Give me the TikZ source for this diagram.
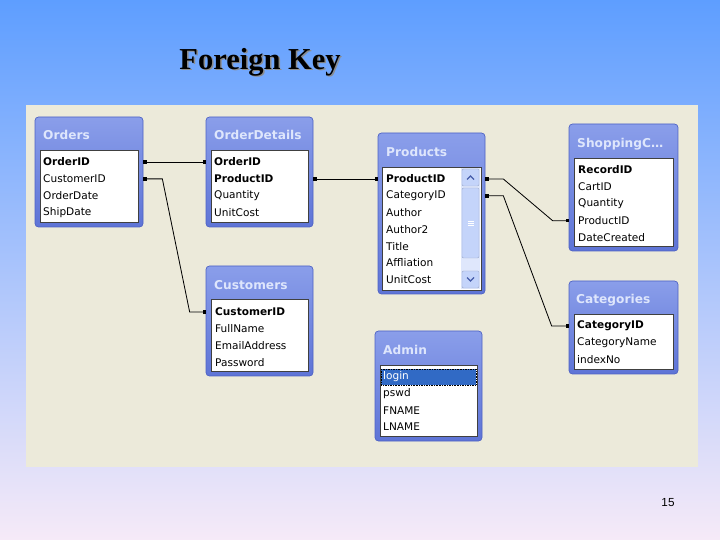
\documentclass[tikz,border=0pt]{standalone}
\usepackage{fontspec}
\setmainfont{Liberation Serif}
\setsansfont{DejaVu Sans}
\newfontfamily\pagefont{Liberation Sans}
\usetikzlibrary{positioning,fit,calc,arrows.meta}

\definecolor{bgtop}{RGB}{94,158,255}
\definecolor{bgbot}{RGB}{246,234,248}
\definecolor{xpbeige}{RGB}{236,234,218}
\definecolor{xptop}{RGB}{138,158,234}
\definecolor{xpbot}{RGB}{94,116,214}
\definecolor{xpedge}{RGB}{78,98,196}
\definecolor{xptitle}{RGB}{222,230,252}
\definecolor{xpsel}{RGB}{49,106,197}
\definecolor{xpscroll}{RGB}{196,212,250}
\definecolor{xparrow}{RGB}{70,92,170}

\begin{document}
\begin{tikzpicture}[x=0.03cm,y=-0.03cm,
    tabframe/.style={draw=xpedge,line width=0.6pt,rounded corners=3pt,inner sep=0pt,
      top color=xptop,bottom color=xpbot},
    tabtitle/.style={anchor=west,inner sep=0pt,text=xptitle,
      font=\sffamily\bfseries\fontsize{10.4}{12}\selectfont},
    tablist/.style={draw=black!75,line width=0.4pt,fill=white,inner sep=0pt},
    row/.style={anchor=west,inner sep=0pt,font=\sffamily\fontsize{9}{10}\selectfont},
    keyrow/.style={row,font=\sffamily\bfseries\fontsize{9}{10}\selectfont},
    fk/.style={line width=0.7pt,{Square[length=2.6pt,width=2.6pt]}-{Square[length=2.6pt,width=2.6pt]}},
    scrollbtn/.style={draw=xpscroll!80!black,fill=xpscroll,rounded corners=1pt,inner sep=0pt}]
    \useasboundingbox (0,0) rectangle (720,540);
    % Fond
    \shade[top color=bgtop,bottom color=bgbot] (0,0) rectangle (720,540);
    \fill[xpbeige] (26,105) rectangle (698,467);
    % Titre
    \node[font=\bfseries\fontsize{26}{30}\selectfont,text=black!45] (titleshadow) at (261.5,63.5) {Foreign Key};
    \node[font=\bfseries\fontsize{26}{30}\selectfont] (title) at (260,62) {Foreign Key};
    \node[font=\pagefont\fontsize{10}{12}\selectfont] (pagenum) at (668,503) {15};

    % Orders
    \node[tabframe,fit={(35,117) (143,227)}] (orders) {};
    \node[tabtitle] (ordersT) at (43,135) {Orders};
    \node[tablist,fit={(40,150) (138,222)}] (ordersL) {};
    \node[keyrow] (o1) at (43,162) {OrderID};
    \foreach \t [count=\i from 2] in {CustomerID,OrderDate,ShipDate}
        \node[row] (o\i) at (43,{162+16.9*(\i-1)}) {\t};

    % OrderDetails
    \node[tabframe,fit={(206,117) (313,227)}] (odet) {};
    \node[tabtitle] (odetT) at (214,135) {OrderDetails};
    \node[tablist,fit={(211,150) (308,222)}] (odetL) {};
    \node[keyrow] (d1) at (214,162) {OrderID};
    \node[keyrow] (d2) at (214,179) {ProductID};
    \foreach \t [count=\i from 3] in {Quantity,UnitCost}
        \node[row] (d\i) at (214,{162+16.9*(\i-1)}) {\t};

    % Products
    \node[tabframe,fit={(378,133) (485,294)}] (prod) {};
    \node[tabtitle] (prodT) at (386,152) {Products};
    \node[tablist,fit={(382,167) (481,290)}] (prodL) {};
    \node[keyrow] (p1) at (386,179) {ProductID};
    \foreach \t [count=\i from 2] in {CategoryID,Author,Author2,Title,Affliation,UnitCost}
        \node[row] (p\i) at (386,{179+16.8*(\i-1)}) {\t};
    % barre de defilement
    \fill[xpscroll!55] (461,168) rectangle (480,289);
    \node[scrollbtn,fit={(462,169) (479,186)}] (upbtn) {};
    \node[scrollbtn,fit={(462,188) (479,258)}] (thumb) {};
    \node[scrollbtn,fit={(462,271) (479,288)}] (downbtn) {};
    \draw[xparrow,line width=1pt] ($(upbtn.center)+(-3.5,2)$) -- ++(3.5,-3.5) -- ++(3.5,3.5);
    \draw[xparrow,line width=1pt] ($(downbtn.center)+(-3.5,-2)$) -- ++(3.5,3.5) -- ++(3.5,-3.5);
    \foreach \dy in {-2,0,2}
        \draw[white,line width=0.5pt] ($(thumb.center)+(-3,\dy)$) -- ++(6,0);

    % ShoppingC
    \node[tabframe,fit={(569,124) (678,251)}] (shop) {};
    \node[tabtitle] (shopT) at (577,144) {ShoppingC…};
    \node[tablist,fit={(574,158) (673,246)}] (shopL) {};
    \node[keyrow] (s1) at (578,170) {RecordID};
    \foreach \t [count=\i from 2] in {CartID,Quantity,ProductID,DateCreated}
        \node[row] (s\i) at (578,{170+16.9*(\i-1)}) {\t};

    % Customers
    \node[tabframe,fit={(206,266) (313,376)}] (cust) {};
    \node[tabtitle] (custT) at (214,285) {Customers};
    \node[tablist,fit={(211,299) (308,371)}] (custL) {};
    \node[keyrow] (c1) at (215,312) {CustomerID};
    \foreach \t [count=\i from 2] in {FullName,EmailAddress,Password}
        \node[row] (c\i) at (215,{312+16.7*(\i-1)}) {\t};

    % Admin
    \node[tabframe,fit={(375,331) (482,441)}] (admin) {};
    \node[tabtitle] (adminT) at (383,350) {Admin};
    \node[tablist,fit={(380,365) (477,436)}] (adminL) {};
    \fill[xpsel] (381,369) rectangle (476,385);
    \draw[black,densely dotted,line width=0.4pt] (381,369) rectangle (476,385);
    \node[row,text=white] (a1) at (383,377) {login};
    \foreach \t [count=\i from 2] in {pswd,FNAME,LNAME}
        \node[row] (a\i) at (383,{377+16.7*(\i-1)}) {\t};

    % Categories
    \node[tabframe,fit={(569,281) (678,374)}] (cat) {};
    \node[tabtitle] (catT) at (576,300) {Categories};
    \node[tablist,fit={(574,314) (673,369)}] (catL) {};
    \node[keyrow] (g1) at (577,326) {CategoryID};
    \foreach \t [count=\i from 2] in {CategoryName,indexNo}
        \node[row] (g\i) at (577,{326+16.9*(\i-1)}) {\t};

    % Liens
    \draw[fk] (orders.east |- o1) -- (odet.west |- d1);
    \draw[fk] (orders.east |- o2) -- ++(19,0) -- ($(cust.west |- c1)+(-16,0)$) -- (cust.west |- c1);
    \draw[fk] (odet.east |- d2) -- (prod.west |- p1);
    \draw[fk] (prod.east |- p1) -- ++(18,0) -- ($(shop.west |- s4)+(-16,0)$) -- (shop.west |- s4);
    \draw[fk] (prod.east |- p2) -- ++(18,0) -- ($(cat.west |- g1)+(-17,0)$) -- (cat.west |- g1);
\end{tikzpicture}
\end{document}
